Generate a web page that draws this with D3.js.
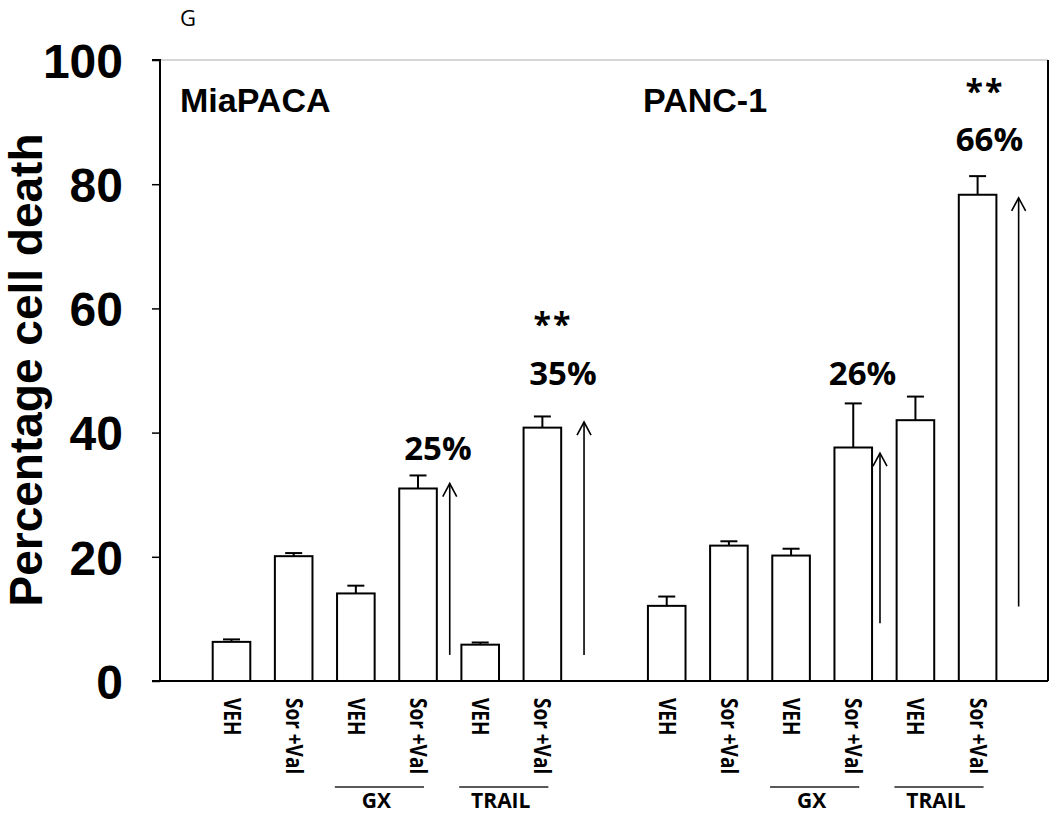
<!DOCTYPE html>
<html><head><meta charset="utf-8">
<script src="https://cdn.jsdelivr.net/npm/d3@7/dist/d3.min.js"></script>
<style>body{margin:0;background:#fff}svg{display:block}</style>
</head><body><svg id="c" width="1050" height="814"></svg>
<script>
// ---- data ----
const cellLines = ["MiaPACA", "PANC-1"];
const categories = ["VEH", "Sor +Val", "VEH", "Sor +Val", "VEH", "Sor +Val"];
const miaSlots = [1, 2, 3, 4, 5, 6];
const pancSlots = [8, 9, 10, 11, 12, 13];
const miaValues = [6.3, 20.1, 14.1, 31.0, 5.85, 40.8];
const miaErrors = [0.4, 0.5, 1.25, 2.1, 0.35, 1.8];
const pancValues = [12.1, 21.8, 20.2, 37.6, 42.0, 78.3];
const pancErrors = [1.5, 0.7, 1.1, 7.1, 3.8, 3.0];
const groupLabels = ["GX", "TRAIL"];
const groupSlots = [[3, 4], [5, 6], [10, 11], [12, 13]];
const yTicks = [0, 20, 40, 60, 80, 100];
const pctLabels = ["25%", "35%", "26%", "66%"];
const pctSlots = [4.32, 6.33, 11.15, 13.19];
const pctValues = [35.6, 47.7, 47.7, 85.3];
const starSlots = [6.17, 13.12];
const starValues = [55.5, 93.0];
const arrowSlots = [4.51, 6.67, 11.43, 13.66];
const arrowFrom = [4.2, 4.2, 9.3, 12.0];
const arrowTo = [31.8, 41.7, 36.7, 77.8];

// ---- scales ----
const svg = d3.select("#c");
const x = d3.scaleLinear().domain([1, 13]).range([231.5, 977.6]);
const y = d3.scaleLinear().domain([0, 100]).range([681, 60]);
const left = 160, right = 1048;
const bw = 37.6;

const bars = [];
miaSlots.forEach((s, i) => bars.push({slot: s, v: miaValues[i], e: miaErrors[i], cat: categories[i]}));
pancSlots.forEach((s, i) => bars.push({slot: s, v: pancValues[i], e: pancErrors[i], cat: categories[i]}));

// frame
svg.append("line").attr("x1", left).attr("x2", right).attr("y1", y(100)).attr("y2", y(100))
  .attr("stroke", "#c8c8c8").attr("stroke-width", 1.5);
svg.append("line").attr("x1", right).attr("x2", right).attr("y1", y(100)).attr("y2", y(0))
  .attr("stroke", "#000").attr("stroke-width", 2);

// error bars
const eb = svg.append("g").attr("stroke", "#000").attr("stroke-width", 2);
bars.forEach(d => {
  eb.append("line").attr("x1", x(d.slot)).attr("x2", x(d.slot)).attr("y1", y(d.v)).attr("y2", y(d.v + d.e));
  eb.append("line").attr("x1", x(d.slot) - 8.5).attr("x2", x(d.slot) + 8.5).attr("y1", y(d.v + d.e)).attr("y2", y(d.v + d.e));
});

// bars
svg.append("g").selectAll("rect").data(bars).join("rect")
  .attr("x", d => x(d.slot) - bw / 2).attr("width", bw)
  .attr("y", d => y(d.v)).attr("height", d => y(0) - y(d.v))
  .attr("fill", "#fff").attr("stroke", "#000").attr("stroke-width", 2);

// y axis
const ya = svg.append("g").attr("transform", `translate(${left},0)`)
  .call(d3.axisLeft(y).tickValues(yTicks).tickSize(8).tickPadding(29).tickFormat(d3.format("d")));
ya.select(".domain").attr("stroke", "#000").attr("stroke-width", 2).attr("d", `M-8,${y(100)}H0V${y(0)}`);
ya.selectAll(".tick line").attr("stroke", "#000").attr("stroke-width", 1.5);
ya.selectAll(".tick text").attr("font-family", "Liberation Sans, Arial, sans-serif")
  .attr("font-weight", "bold").attr("font-size", 48).attr("fill", "#000").attr("dy", "0.36em");

// x axis baseline
svg.append("line").attr("x1", 152).attr("x2", right).attr("y1", y(0)).attr("y2", y(0))
  .attr("stroke", "#000").attr("stroke-width", 2);

// y title
svg.append("text").attr("transform", "translate(42,370) rotate(-90)")
  .attr("text-anchor", "middle").attr("font-family", "Liberation Sans, Arial, sans-serif")
  .attr("font-weight", "bold").attr("font-size", 46).attr("fill", "#000")
  .text("Percentage cell death");

// x category labels (rotated)
svg.append("g").selectAll("text").data(bars).join("text")
  .attr("transform", d => `translate(${x(d.slot) - 8},698) rotate(90) scale(1,1.2)`)
  .attr("text-anchor", "start").attr("font-family", "Open Sans, sans-serif")
  .attr("font-weight", "bold").attr("font-size", 19).attr("fill", "#000")
  .text(d => d.cat);

// group lines + labels
groupSlots.forEach((g, i) => {
  const x1 = x(g[0]) - 21, x2 = x(g[1]) + 6;
  svg.append("line").attr("x1", x1).attr("x2", x2).attr("y1", 787).attr("y2", 787)
    .attr("stroke", "#222").attr("stroke-width", 1.5);
  svg.append("text").attr("x", (x1 + x2) / 2 - 3).attr("y", 808).attr("text-anchor", "middle")
    .attr("font-family", "Open Sans, sans-serif").attr("font-weight", "bold").attr("font-size", 21)
    .attr("fill", "#000").text(groupLabels[i % 2]);
});

// cell line labels
svg.append("text").attr("x", 180).attr("y", 112).attr("font-family", "Liberation Sans, Arial, sans-serif")
  .attr("font-weight", "bold").attr("font-size", 34).text(cellLines[0]);
svg.append("text").attr("x", 643).attr("y", 112).attr("font-family", "Liberation Sans, Arial, sans-serif")
  .attr("font-weight", "bold").attr("font-size", 34).text(cellLines[1]);

// panel letter
svg.append("text").attr("x", 188).attr("y", 26).attr("text-anchor", "middle")
  .attr("font-family", "Open Sans, sans-serif").attr("font-size", 22).text("G");

// percentage labels
pctLabels.forEach((t, i) => {
  svg.append("text").attr("x", x(pctSlots[i])).attr("y", y(pctValues[i])).attr("text-anchor", "middle")
    .attr("font-family", "Open Sans, sans-serif").attr("font-weight", "bold").attr("font-size", 33)
    .attr("fill", "#000").text(t);
});
starSlots.forEach((s, i) => {
  svg.append("text").attr("x", x(s)).attr("y", y(starValues[i])).attr("text-anchor", "middle")
    .attr("font-family", "Open Sans, sans-serif").attr("font-weight", "bold").attr("font-size", 32)
    .attr("letter-spacing", 2).attr("fill", "#000").text("**");
});

// arrows
const ag = svg.append("g").attr("stroke", "#000").attr("stroke-width", 1.6).attr("fill", "none");
arrowSlots.forEach((s, i) => {
  const ax = x(s), y1 = y(arrowFrom[i]), y2 = y(arrowTo[i]);
  ag.append("line").attr("x1", ax).attr("x2", ax).attr("y1", y1).attr("y2", y2);
  ag.append("path").attr("d", `M${ax - 7},${y2 + 13}L${ax},${y2}L${ax + 7},${y2 + 13}`);
});
</script></body></html>
